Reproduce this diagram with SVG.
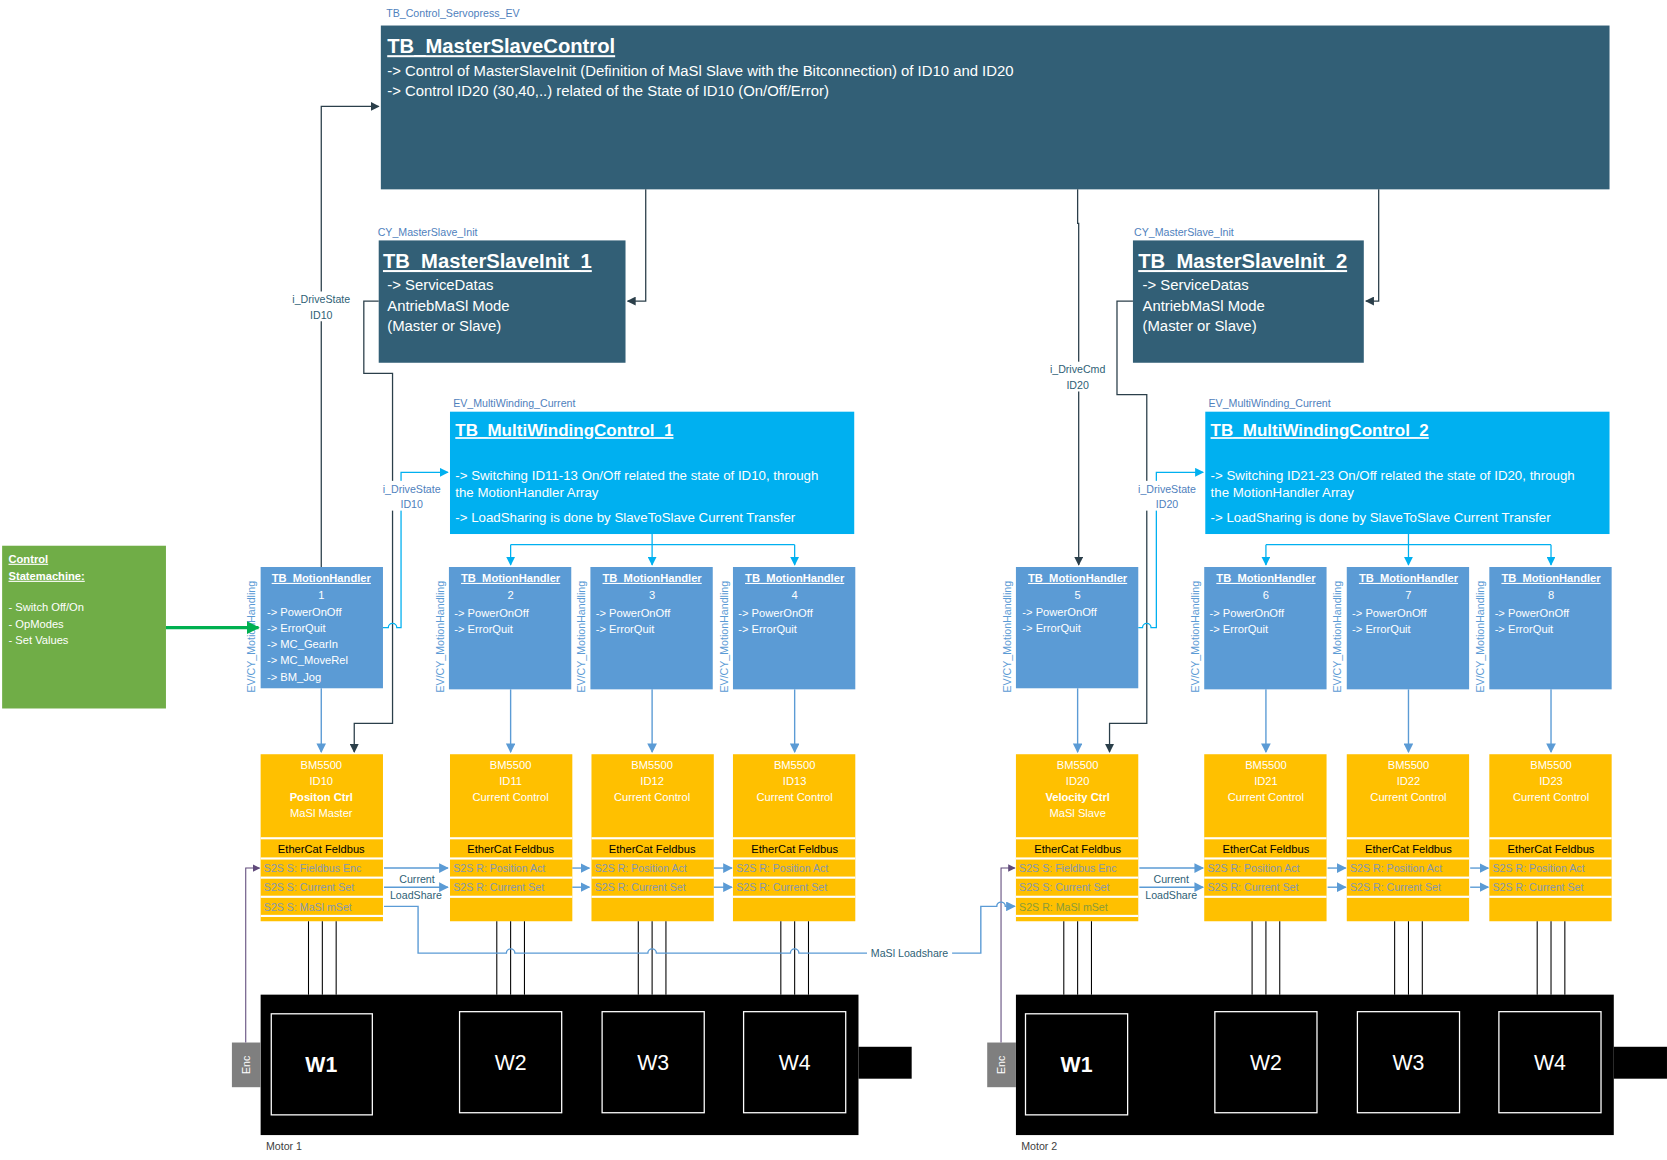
<svg xmlns="http://www.w3.org/2000/svg" width="1667" height="1160" viewBox="0 0 1667 1160">
<defs>
<style>
text{font-family:"Liberation Sans","DejaVu Sans",sans-serif}
.dk{fill:#325f76}.lb{fill:#00b0f0}.mh{fill:#5b9bd5}.bm{fill:#ffc000}
.cap{font-size:10px;fill:#4f81bd}
.t1{font-size:19px;font-weight:bold;fill:#fff;text-decoration:underline}
.w14{font-size:14px;fill:#fff}
.w13{font-size:12.5px;fill:#fff}
.mht{font-size:10.5px;fill:#fff}
.mhh{font-size:10.5px;fill:#fff;font-weight:bold;text-decoration:underline}
.vt{font-size:10px;fill:#5b9bd5}
.bt{font-size:10.5px;fill:#fff}
.eb{font-size:10.5px;fill:#000}
.s2{font-size:10px;fill:#8497b0}
.lab{font-size:10px;fill:#2f5f76}
.lbl{font-size:10px;fill:#4f81bd}
.wd{font-size:20px;fill:#fff}
.ln{fill:none;stroke:#2b3f4a;stroke-width:1.2}
.lnb{fill:none;stroke:#00b0f0;stroke-width:1.2}
.lnm{fill:none;stroke:#5b9bd5;stroke-width:1.3}
.lnp{fill:none;stroke:#604a7b;stroke-width:1}
.wire{stroke:#000;stroke-width:1}
</style>
<marker id="ad" viewBox="0 0 10 10" refX="9" refY="5" markerWidth="7" markerHeight="7" orient="auto"><path d="M0,0L10,5L0,10z" fill="#2b3f4a"/></marker>
<marker id="ab" viewBox="0 0 10 10" refX="9" refY="5" markerWidth="7" markerHeight="7" orient="auto"><path d="M0,0L10,5L0,10z" fill="#00b0f0"/></marker>
<marker id="am" viewBox="0 0 10 10" refX="9" refY="5" markerWidth="7" markerHeight="7" orient="auto"><path d="M0,0L10,5L0,10z" fill="#5b9bd5"/></marker>
<marker id="ap" viewBox="0 0 10 10" refX="9" refY="5" markerWidth="7" markerHeight="7" orient="auto"><path d="M0,0L10,5L0,10z" fill="#604a7b"/></marker>
<marker id="ag" viewBox="0 0 10 10" refX="9" refY="5" markerWidth="4" markerHeight="4" orient="auto"><path d="M0,0L10,5L0,10z" fill="#00b050"/></marker>
</defs>
<rect width="1667" height="1160" fill="#fff"/>
<g transform="scale(1.0638)">
<!-- top -->
<g id="masterslavecontrol">
<text class="cap" x="363" y="16">TB_Control_Servopress_EV</text>
<rect class="dk" x="358" y="24" width="1155" height="154"/>
<text class="t1" x="364" y="50">TB_MasterSlaveControl</text>
<text class="w14" x="364" y="71">-&gt; Control of MasterSlaveInit (Definition of MaSl Slave with the Bitconnection) of ID10 and ID20</text>
<text class="w14" x="364" y="90">-&gt; Control ID20 (30,40,..) related of the State of ID10 (On/Off/Error)</text>
</g>
<g id="init1">
<text class="cap" x="355" y="222">CY_MasterSlave_Init</text>
<rect class="dk" x="356" y="226" width="232" height="115"/>
<text class="t1" x="360" y="252">TB_MasterSlaveInit_1</text>
<text class="w14" x="364" y="273">-&gt; ServiceDatas</text>
<text class="w14" x="364" y="292">AntriebMaSl Mode</text>
<text class="w14" x="364" y="311">(Master or Slave)</text>
</g>
<g id="init2">
<text class="cap" x="1066" y="222">CY_MasterSlave_Init</text>
<rect class="dk" x="1065" y="226" width="217" height="115"/>
<text class="t1" x="1070" y="252">TB_MasterSlaveInit_2</text>
<text class="w14" x="1074" y="273">-&gt; ServiceDatas</text>
<text class="w14" x="1074" y="292">AntriebMaSl Mode</text>
<text class="w14" x="1074" y="311">(Master or Slave)</text>
</g>
<g id="mwc1">
<text class="cap" x="426" y="383">EV_MultiWinding_Current</text>
<rect class="lb" x="423" y="387" width="380" height="115"/>
<text class="t1" x="428" y="410" style="font-size:16px">TB_MultiWindingControl_1</text>
<text class="w13" x="428" y="451">-&gt; Switching ID11-13 On/Off related the state of ID10, through</text>
<text class="w13" x="428" y="467">the MotionHandler Array</text>
<text class="w13" x="428" y="491">-&gt; LoadSharing is done by SlaveToSlave Current Transfer</text>
</g>
<g id="mwc2">
<text class="cap" x="1136" y="383">EV_MultiWinding_Current</text>
<rect class="lb" x="1133" y="387" width="380" height="115"/>
<text class="t1" x="1138" y="410" style="font-size:16px">TB_MultiWindingControl_2</text>
<text class="w13" x="1138" y="451">-&gt; Switching ID21-23 On/Off related the state of ID20, through</text>
<text class="w13" x="1138" y="467">the MotionHandler Array</text>
<text class="w13" x="1138" y="491">-&gt; LoadSharing is done by SlaveToSlave Current Transfer</text>
</g>
<g id="statemachine">
<rect x="2" y="513" width="154" height="153" fill="#70ad47"/>
<text class="mht" x="8" y="529" style="font-weight:bold;text-decoration:underline">Control</text>
<text class="mht" x="8" y="545" style="font-weight:bold;text-decoration:underline">Statemachine:</text>
<text class="mht" x="8" y="574">- Switch Off/On</text>
<text class="mht" x="8" y="590">- OpModes</text>
<text class="mht" x="8" y="605">- Set Values</text>
</g>
<!-- Motion handlers -->
<g id="mh1"><rect class="mh" x="245" y="533" width="115" height="114"/>
<text class="vt" transform="translate(240,651) rotate(-90)">EV/CY_MotionHandling</text>
<text class="mhh" x="302" y="547" text-anchor="middle">TB_MotionHandler</text><text class="mht" x="302" y="563" text-anchor="middle">1</text>
<text class="mht" x="251" y="579">-&gt; PowerOnOff</text><text class="mht" x="251" y="594">-&gt; ErrorQuit</text><text class="mht" x="251" y="609">-&gt; MC_GearIn</text><text class="mht" x="251" y="624">-&gt; MC_MoveRel</text><text class="mht" x="251" y="640">-&gt; BM_Jog</text></g>
<g id="mh2"><rect class="mh" x="422" y="533" width="115" height="115"/>
<text class="vt" transform="translate(417,651) rotate(-90)">EV/CY_MotionHandling</text>
<text class="mhh" x="480" y="547" text-anchor="middle">TB_MotionHandler</text><text class="mht" x="480" y="563" text-anchor="middle">2</text>
<text class="mht" x="427" y="580">-&gt; PowerOnOff</text><text class="mht" x="427" y="595">-&gt; ErrorQuit</text></g>
<g id="mh3"><rect class="mh" x="555" y="533" width="115" height="115"/>
<text class="vt" transform="translate(550,651) rotate(-90)">EV/CY_MotionHandling</text>
<text class="mhh" x="613" y="547" text-anchor="middle">TB_MotionHandler</text><text class="mht" x="613" y="563" text-anchor="middle">3</text>
<text class="mht" x="560" y="580">-&gt; PowerOnOff</text><text class="mht" x="560" y="595">-&gt; ErrorQuit</text></g>
<g id="mh4"><rect class="mh" x="689" y="533" width="115" height="115"/>
<text class="vt" transform="translate(684,651) rotate(-90)">EV/CY_MotionHandling</text>
<text class="mhh" x="747" y="547" text-anchor="middle">TB_MotionHandler</text><text class="mht" x="747" y="563" text-anchor="middle">4</text>
<text class="mht" x="694" y="580">-&gt; PowerOnOff</text><text class="mht" x="694" y="595">-&gt; ErrorQuit</text></g>
<g id="mh5"><rect class="mh" x="955" y="533" width="115" height="114"/>
<text class="vt" transform="translate(950,651) rotate(-90)">EV/CY_MotionHandling</text>
<text class="mhh" x="1013" y="547" text-anchor="middle">TB_MotionHandler</text><text class="mht" x="1013" y="563" text-anchor="middle">5</text>
<text class="mht" x="961" y="579">-&gt; PowerOnOff</text><text class="mht" x="961" y="594">-&gt; ErrorQuit</text></g>
<g id="mh6"><rect class="mh" x="1132" y="533" width="115" height="115"/>
<text class="vt" transform="translate(1127,651) rotate(-90)">EV/CY_MotionHandling</text>
<text class="mhh" x="1190" y="547" text-anchor="middle">TB_MotionHandler</text><text class="mht" x="1190" y="563" text-anchor="middle">6</text>
<text class="mht" x="1137" y="580">-&gt; PowerOnOff</text><text class="mht" x="1137" y="595">-&gt; ErrorQuit</text></g>
<g id="mh7"><rect class="mh" x="1266" y="533" width="115" height="115"/>
<text class="vt" transform="translate(1261,651) rotate(-90)">EV/CY_MotionHandling</text>
<text class="mhh" x="1324" y="547" text-anchor="middle">TB_MotionHandler</text><text class="mht" x="1324" y="563" text-anchor="middle">7</text>
<text class="mht" x="1271" y="580">-&gt; PowerOnOff</text><text class="mht" x="1271" y="595">-&gt; ErrorQuit</text></g>
<g id="mh8"><rect class="mh" x="1400" y="533" width="115" height="115"/>
<text class="vt" transform="translate(1395,651) rotate(-90)">EV/CY_MotionHandling</text>
<text class="mhh" x="1458" y="547" text-anchor="middle">TB_MotionHandler</text><text class="mht" x="1458" y="563" text-anchor="middle">8</text>
<text class="mht" x="1405" y="580">-&gt; PowerOnOff</text><text class="mht" x="1405" y="595">-&gt; ErrorQuit</text></g>
<!-- BM drives -->
<g id="bm10"><rect class="bm" x="245" y="709" width="115" height="157"/>
<g fill="#fff"><rect x="245" y="787" width="115" height="2"/><rect x="245" y="806" width="115" height="2"/><rect x="245" y="824" width="115" height="2"/><rect x="245" y="842" width="115" height="2"/><rect x="245" y="860" width="115" height="2"/></g>
<text class="bt" x="302" y="723" text-anchor="middle">BM5500</text><text class="bt" x="302" y="738" text-anchor="middle">ID10</text><text class="bt" x="302" y="753" text-anchor="middle" font-weight="bold">Positon Ctrl</text><text class="bt" x="302" y="768" text-anchor="middle">MaSl Master</text>
<text class="eb" x="302" y="802" text-anchor="middle">EtherCat Feldbus</text>
<text class="s2" x="248" y="820">S2S S: Fieldbus Enc</text><text class="s2" x="248" y="838">S2S S: Current Set</text><text class="s2" x="248" y="856">S2S S: MaSl mSet</text></g>
<g id="bm11"><rect class="bm" x="423" y="709" width="115" height="157"/>
<g fill="#fff"><rect x="423" y="787" width="115" height="2"/><rect x="423" y="806" width="115" height="2"/><rect x="423" y="824" width="115" height="2"/><rect x="423" y="842" width="115" height="2"/></g>
<text class="bt" x="480" y="723" text-anchor="middle">BM5500</text><text class="bt" x="480" y="738" text-anchor="middle">ID11</text><text class="bt" x="480" y="753" text-anchor="middle">Current Control</text>
<text class="eb" x="480" y="802" text-anchor="middle">EtherCat Feldbus</text>
<text class="s2" x="426" y="820">S2S R: Position Act</text><text class="s2" x="426" y="838">S2S R: Current Set</text></g>
<g id="bm12"><rect class="bm" x="556" y="709" width="115" height="157"/>
<g fill="#fff"><rect x="556" y="787" width="115" height="2"/><rect x="556" y="806" width="115" height="2"/><rect x="556" y="824" width="115" height="2"/><rect x="556" y="842" width="115" height="2"/></g>
<text class="bt" x="613" y="723" text-anchor="middle">BM5500</text><text class="bt" x="613" y="738" text-anchor="middle">ID12</text><text class="bt" x="613" y="753" text-anchor="middle">Current Control</text>
<text class="eb" x="613" y="802" text-anchor="middle">EtherCat Feldbus</text>
<text class="s2" x="559" y="820">S2S R: Position Act</text><text class="s2" x="559" y="838">S2S R: Current Set</text></g>
<g id="bm13"><rect class="bm" x="689" y="709" width="115" height="157"/>
<g fill="#fff"><rect x="689" y="787" width="115" height="2"/><rect x="689" y="806" width="115" height="2"/><rect x="689" y="824" width="115" height="2"/><rect x="689" y="842" width="115" height="2"/></g>
<text class="bt" x="747" y="723" text-anchor="middle">BM5500</text><text class="bt" x="747" y="738" text-anchor="middle">ID13</text><text class="bt" x="747" y="753" text-anchor="middle">Current Control</text>
<text class="eb" x="747" y="802" text-anchor="middle">EtherCat Feldbus</text>
<text class="s2" x="692" y="820">S2S R: Position Act</text><text class="s2" x="692" y="838">S2S R: Current Set</text></g>
<g id="bm20"><rect class="bm" x="955" y="709" width="115" height="157"/>
<g fill="#fff"><rect x="955" y="787" width="115" height="2"/><rect x="955" y="806" width="115" height="2"/><rect x="955" y="824" width="115" height="2"/><rect x="955" y="842" width="115" height="2"/><rect x="955" y="860" width="115" height="2"/></g>
<text class="bt" x="1013" y="723" text-anchor="middle">BM5500</text><text class="bt" x="1013" y="738" text-anchor="middle">ID20</text><text class="bt" x="1013" y="753" text-anchor="middle" font-weight="bold">Velocity Ctrl</text><text class="bt" x="1013" y="768" text-anchor="middle">MaSl Slave</text>
<text class="eb" x="1013" y="802" text-anchor="middle">EtherCat Feldbus</text>
<text class="s2" x="958" y="820">S2S S: Fieldbus Enc</text><text class="s2" x="958" y="838">S2S S: Current Set</text><text class="s2" x="958" y="856" style="fill:#8a9a3a">S2S R: MaSl mSet</text></g>
<g id="bm21"><rect class="bm" x="1132" y="709" width="115" height="157"/>
<g fill="#fff"><rect x="1132" y="787" width="115" height="2"/><rect x="1132" y="806" width="115" height="2"/><rect x="1132" y="824" width="115" height="2"/><rect x="1132" y="842" width="115" height="2"/></g>
<text class="bt" x="1190" y="723" text-anchor="middle">BM5500</text><text class="bt" x="1190" y="738" text-anchor="middle">ID21</text><text class="bt" x="1190" y="753" text-anchor="middle">Current Control</text>
<text class="eb" x="1190" y="802" text-anchor="middle">EtherCat Feldbus</text>
<text class="s2" x="1135" y="820">S2S R: Position Act</text><text class="s2" x="1135" y="838">S2S R: Current Set</text></g>
<g id="bm22"><rect class="bm" x="1266" y="709" width="115" height="157"/>
<g fill="#fff"><rect x="1266" y="787" width="115" height="2"/><rect x="1266" y="806" width="115" height="2"/><rect x="1266" y="824" width="115" height="2"/><rect x="1266" y="842" width="115" height="2"/></g>
<text class="bt" x="1324" y="723" text-anchor="middle">BM5500</text><text class="bt" x="1324" y="738" text-anchor="middle">ID22</text><text class="bt" x="1324" y="753" text-anchor="middle">Current Control</text>
<text class="eb" x="1324" y="802" text-anchor="middle">EtherCat Feldbus</text>
<text class="s2" x="1269" y="820">S2S R: Position Act</text><text class="s2" x="1269" y="838">S2S R: Current Set</text></g>
<g id="bm23"><rect class="bm" x="1400" y="709" width="115" height="157"/>
<g fill="#fff"><rect x="1400" y="787" width="115" height="2"/><rect x="1400" y="806" width="115" height="2"/><rect x="1400" y="824" width="115" height="2"/><rect x="1400" y="842" width="115" height="2"/></g>
<text class="bt" x="1458" y="723" text-anchor="middle">BM5500</text><text class="bt" x="1458" y="738" text-anchor="middle">ID23</text><text class="bt" x="1458" y="753" text-anchor="middle">Current Control</text>
<text class="eb" x="1458" y="802" text-anchor="middle">EtherCat Feldbus</text>
<text class="s2" x="1403" y="820">S2S R: Position Act</text><text class="s2" x="1403" y="838">S2S R: Current Set</text></g>
<!-- wires -->
<g id="wires">
<path class="wire" d="M290,866V935M303,866V935M316,866V935M467,866V935M480,866V935M493,866V935M600,866V935M613,866V935M626,866V935M734,866V935M747,866V935M760,866V935M1000,866V935M1013,866V935M1026,866V935M1177,866V935M1190,866V935M1203,866V935M1311,866V935M1324,866V935M1337,866V935M1445,866V935M1458,866V935M1471,866V935"/>
</g>
<!-- motors -->
<g id="motor1">
<rect x="245" y="935" width="562" height="132" fill="#000"/>
<rect x="807" y="984" width="50" height="30" fill="#000"/>
<rect x="218" y="980" width="27" height="42" fill="#7f7f7f"/>
<text transform="translate(235,1001) rotate(-90)" text-anchor="middle" style="font-size:10px;fill:#fff">Enc</text>
<g fill="none" stroke="#fff" stroke-width="1.2"><rect x="255" y="953" width="95" height="95"/><rect x="432" y="951" width="96" height="95"/><rect x="566" y="951" width="96" height="95"/><rect x="699" y="951" width="96" height="95"/></g>
<text class="wd" x="302" y="1008" text-anchor="middle" font-weight="bold">W1</text><text class="wd" x="480" y="1006" text-anchor="middle">W2</text><text class="wd" x="614" y="1006" text-anchor="middle">W3</text><text class="wd" x="747" y="1006" text-anchor="middle">W4</text>
<text x="250" y="1081" style="font-size:10px;fill:#404040">Motor 1</text>
</g>
<g id="motor2">
<rect x="955" y="935" width="562" height="132" fill="#000"/>
<rect x="1517" y="984" width="50" height="30" fill="#000"/>
<rect x="928" y="980" width="27" height="42" fill="#7f7f7f"/>
<text transform="translate(945,1001) rotate(-90)" text-anchor="middle" style="font-size:10px;fill:#fff">Enc</text>
<g fill="none" stroke="#fff" stroke-width="1.2"><rect x="964" y="953" width="96" height="95"/><rect x="1142" y="951" width="96" height="95"/><rect x="1276" y="951" width="96" height="95"/><rect x="1409" y="951" width="96" height="95"/></g>
<text class="wd" x="1012" y="1008" text-anchor="middle" font-weight="bold">W1</text><text class="wd" x="1190" y="1006" text-anchor="middle">W2</text><text class="wd" x="1324" y="1006" text-anchor="middle">W3</text><text class="wd" x="1457" y="1006" text-anchor="middle">W4</text>
<text x="960" y="1081" style="font-size:10px;fill:#404040">Motor 2</text>
</g>
<!-- connectors -->
<g id="connectors">
<path class="ln" d="M302,533V100H356" marker-end="url(#ad)"/>
<rect x="270" y="274" width="64" height="28" fill="#fff"/>
<text class="lab" x="302" y="285" text-anchor="middle">i_DriveState</text><text class="lab" x="302" y="300" text-anchor="middle">ID10</text>
<path class="ln" d="M607,178V283H590" marker-end="url(#ad)"/>
<path class="ln" d="M1296,178V283H1284" marker-end="url(#ad)"/>
<path class="ln" d="M356,283H342V351H369V680H333V707" marker-end="url(#ad)"/>
<path class="ln" d="M1065,283H1050V371H1078V680H1043V707" marker-end="url(#ad)"/>
<path class="ln" d="M1013,178V210H1014V531" marker-end="url(#ad)"/>
<rect x="982" y="340" width="62" height="28" fill="#fff"/>
<text class="lab" x="1013" y="351" text-anchor="middle">i_DriveCmd</text><text class="lab" x="1013" y="366" text-anchor="middle">ID20</text>
<path class="lnb" d="M360,590H365a4,4 0 0 1 8,0H377V444H421" marker-end="url(#ab)"/>
<rect x="356" y="452" width="60" height="28" fill="#fff"/>
<text class="lbl" x="387" y="463" text-anchor="middle">i_DriveState</text><text class="lbl" x="387" y="478" text-anchor="middle">ID10</text>
<path class="lnb" d="M1070,590H1074a4,4 0 0 1 8,0H1087V444H1131" marker-end="url(#ab)"/>
<rect x="1066" y="452" width="60" height="28" fill="#fff"/>
<text class="lbl" x="1097" y="463" text-anchor="middle">i_DriveState</text><text class="lbl" x="1097" y="478" text-anchor="middle">ID20</text>
<path class="lnb" d="M613,502V512M480,512H747"/>
<path class="lnb" d="M480,512V531" marker-end="url(#ab)"/><path class="lnb" d="M613,512V531" marker-end="url(#ab)"/><path class="lnb" d="M747,512V531" marker-end="url(#ab)"/>
<path class="lnb" d="M1324,502V512M1190,512H1458"/>
<path class="lnb" d="M1190,512V531" marker-end="url(#ab)"/><path class="lnb" d="M1324,512V531" marker-end="url(#ab)"/><path class="lnb" d="M1458,512V531" marker-end="url(#ab)"/>
<path class="lnm" d="M302,647V707" marker-end="url(#am)"/><path class="lnm" d="M480,648V707" marker-end="url(#am)"/><path class="lnm" d="M613,648V707" marker-end="url(#am)"/><path class="lnm" d="M747,648V707" marker-end="url(#am)"/>
<path class="lnm" d="M1013,647V707" marker-end="url(#am)"/><path class="lnm" d="M1190,648V707" marker-end="url(#am)"/><path class="lnm" d="M1324,648V707" marker-end="url(#am)"/><path class="lnm" d="M1458,648V707" marker-end="url(#am)"/>
<path d="M156,590H243" stroke="#00b050" stroke-width="3" fill="none" marker-end="url(#ag)"/>
<path class="lnm" d="M361,816H421" marker-end="url(#am)"/><path class="lnm" d="M361,834H421" marker-end="url(#am)"/>
<text class="lab" x="392" y="830" text-anchor="middle">Current</text><text class="lab" x="391" y="845" text-anchor="middle">LoadShare</text>
<path class="lnm" d="M538,816H554" marker-end="url(#am)"/><path class="lnm" d="M538,834H554" marker-end="url(#am)"/>
<path class="lnm" d="M671,816H688" marker-end="url(#am)"/><path class="lnm" d="M671,834H688" marker-end="url(#am)"/>
<path class="lnm" d="M1071,816H1131" marker-end="url(#am)"/><path class="lnm" d="M1071,834H1131" marker-end="url(#am)"/>
<text class="lab" x="1101" y="830" text-anchor="middle">Current</text><text class="lab" x="1101" y="845" text-anchor="middle">LoadShare</text>
<path class="lnm" d="M1248,816H1265" marker-end="url(#am)"/><path class="lnm" d="M1248,834H1265" marker-end="url(#am)"/>
<path class="lnm" d="M1382,816H1399" marker-end="url(#am)"/><path class="lnm" d="M1382,834H1399" marker-end="url(#am)"/>
<path class="lnp" d="M231,980V816H244" marker-end="url(#ap)"/>
<path class="lnp" d="M941,980V816H954" marker-end="url(#ap)"/>
<path class="lnm" stroke-width="1" d="M361,852H393V896H476a4,4 0 0 1 8,0H609a4,4 0 0 1 8,0H743a4,4 0 0 1 8,0H922V852H937a4,4 0 0 1 8,0H954" marker-end="url(#am)"/>
<rect x="815" y="889" width="80" height="13" fill="#fff"/>
<text class="lab" x="855" y="900" text-anchor="middle">MaSl Loadshare</text>
</g>
</g>
</svg>
